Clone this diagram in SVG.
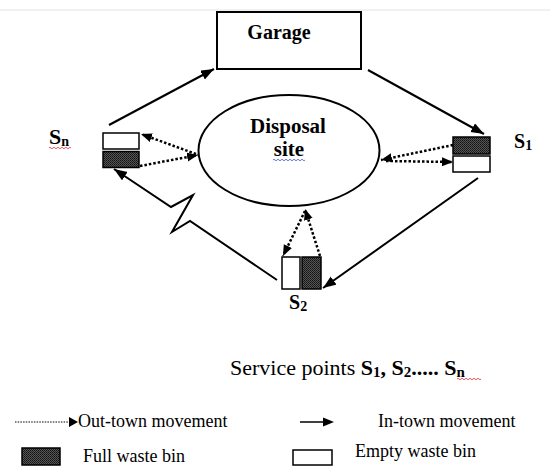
<svg xmlns="http://www.w3.org/2000/svg" width="550" height="472" viewBox="0 0 550 472">
<style>
.solid{fill:none;stroke:#000;stroke-width:2}
.dot{fill:none;stroke:#000;stroke-width:2.5;stroke-dasharray:2.5 2}
.box{fill:#fff;stroke:#000;stroke-width:2}
.full{fill:url(#stip);stroke:#000;stroke-width:1.5}
.empty{fill:#fff;stroke:#000;stroke-width:1.5}
.lbl{font-family:"Liberation Serif",serif;font-weight:bold;fill:#000}
.reg{font-family:"Liberation Serif",serif;fill:#000}
.wr{fill:none;stroke:#e03030;stroke-width:0.8}
.wb{fill:none;stroke:#4050e0;stroke-width:0.8}
</style>
<defs>
<pattern id="stip" width="2" height="2" patternUnits="userSpaceOnUse">
<rect width="2" height="2" fill="#555"/>
<rect width="1" height="1" fill="#111"/>
<rect x="1" y="1" width="1" height="1" fill="#222"/>
</pattern>
<marker id="ah" markerUnits="userSpaceOnUse" markerWidth="14" markerHeight="12" refX="13" refY="5" orient="auto">
<path d="M0,0 L13,5 L0,10 z" fill="#000"/>
</marker>
<marker id="ahd" markerUnits="userSpaceOnUse" markerWidth="12" markerHeight="10" refX="11" refY="4.5" orient="auto">
<path d="M0,0 L11,4.5 L0,9 z" fill="#000"/>
</marker>
</defs>
<rect width="550" height="472" fill="#fff"/>
<line x1="0" y1="10" x2="550" y2="10" stroke="#e2e2e2" stroke-width="1"/>

<g id="garage">
<rect class="box" x="217" y="12" width="144" height="57"/>
<text class="lbl" x="279" y="39" font-size="20" text-anchor="middle">Garage</text>
</g>

<g id="disposal">
<ellipse cx="289" cy="150.5" rx="90.5" ry="55.5" fill="#fff" stroke="#000" stroke-width="2"/>
<text class="lbl" x="288" y="133" font-size="21" text-anchor="middle">Disposal</text>
<text class="lbl" x="289" y="156" font-size="21" text-anchor="middle">site</text>
<path class="wb" d="M273,160 q1,-1.5 2,0 t2,0 t2,0 t2,0 t2,0 t2,0 t2,0 t2,0 t2,0 t2,0 t2,0 t2,0 t2,0 t2,0 t2,0 t2,0"/>
</g>

<g id="sn">
<rect class="empty" x="103" y="133" width="36" height="16"/>
<rect class="full" x="103" y="151.5" width="36" height="16"/>
<text class="lbl" x="49" y="144" font-size="22">S<tspan font-size="14" dy="2">n</tspan></text>
<path class="wr" d="M49,148 q1,-1.5 2,0 t2,0 t2,0 t2,0 t2,0 t2,0 t2,0 t2,0 t2,0 t2,0 t2,0"/>
</g>

<g id="s1">
<rect class="full" x="453" y="137" width="37" height="17"/>
<rect class="empty" x="453" y="156" width="37" height="16"/>
<text class="lbl" x="514" y="148" font-size="20">S<tspan font-size="14" dy="2">1</tspan></text>
</g>

<g id="s2">
<rect class="empty" x="282" y="257" width="18" height="32"/>
<rect class="full" x="302" y="257" width="19" height="32"/>
<text class="lbl" x="289" y="309" font-size="20">S<tspan font-size="14" dy="2">2</tspan></text>
</g>

<g id="connectors">
<line class="solid" x1="109" y1="125" x2="214" y2="69" marker-end="url(#ah)"/>
<line class="solid" x1="368" y1="70" x2="484" y2="134" marker-end="url(#ah)"/>
<line class="solid" x1="478" y1="178" x2="323" y2="288" marker-end="url(#ah)"/>
<path class="solid" d="M277,280 L190,221 L172,232 L193,195 L171,207 L114,169" marker-end="url(#ah)" stroke-linejoin="miter"/>
<line class="dot" x1="196" y1="154" x2="141" y2="134" marker-end="url(#ahd)"/>
<line class="dot" x1="140" y1="166" x2="198" y2="155" marker-end="url(#ahd)"/>
<line class="dot" x1="453" y1="145" x2="381" y2="160" marker-end="url(#ahd)"/>
<line class="dot" x1="386" y1="161" x2="453" y2="162" marker-end="url(#ahd)"/>
<line class="dot" x1="305" y1="211" x2="283" y2="256" marker-end="url(#ahd)"/>
<line class="dot" x1="320" y1="256" x2="305" y2="209" marker-end="url(#ahd)"/>
</g>

<g id="caption">
<text class="reg" x="230" y="375" font-size="22">Service points <tspan font-weight="bold">S</tspan><tspan font-weight="bold" font-size="15" dy="2">1</tspan><tspan font-weight="bold" dy="-2">, S</tspan><tspan font-weight="bold" font-size="15" dy="2">2</tspan><tspan font-weight="bold" dy="-2">..... S</tspan><tspan font-weight="bold" font-size="15" dy="2">n</tspan></text>
<path class="wr" d="M457,379 q1,-1.5 2,0 t2,0 t2,0 t2,0 t2,0 t2,0 t2,0 t2,0 t2,0 t2,0 t2,0 t2,0"/>
</g>

<g id="legend">
<line x1="15" y1="422" x2="70" y2="422" stroke="#000" stroke-width="1.2" stroke-dasharray="1.5 1.2"/>
<path d="M69,417 L78,422 L69,427 z" fill="#000"/>
<text class="reg" x="78" y="427" font-size="18">Out-town movement</text>
<line x1="300" y1="422" x2="325" y2="422" stroke="#000" stroke-width="1.5"/>
<path d="M323,417.5 L334,422 L323,426.5 z" fill="#000"/>
<text class="reg" x="378" y="427" font-size="18">In-town movement</text>
<rect class="full" x="22" y="448" width="38" height="17" stroke-width="0.5"/>
<text class="reg" x="83" y="462" font-size="18">Full waste bin</text>
<rect class="empty" x="293" y="450" width="39" height="15"/>
<text class="reg" x="355" y="457" font-size="18">Empty waste bin</text>
</g>
</svg>
